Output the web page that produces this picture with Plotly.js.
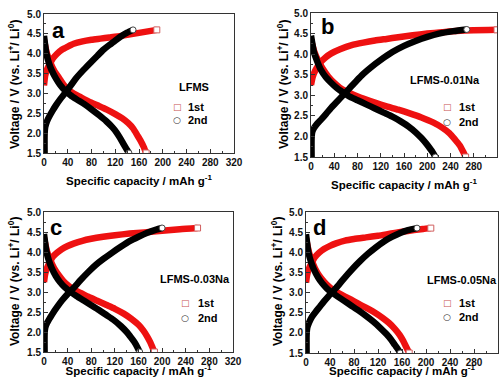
<!DOCTYPE html>
<html><head><meta charset="utf-8">
<script src="https://cdn.plot.ly/plotly-3.0.1.min.js"></script>
<style>body{margin:0;background:#fff}</style></head>
<body><div id="chart" style="width:502px;height:377px"></div>
<script>
// Panel a: LFMS
const a_ch1_x = [0, 2, 5, 10, 15, 22, 30, 40, 50, 65, 80, 95, 110, 130, 150, 170, 190];
const a_ch1_y = [3.2, 3.45, 3.6, 3.75, 3.88, 4.0, 4.1, 4.18, 4.25, 4.31, 4.35, 4.38, 4.41, 4.45, 4.5, 4.55, 4.6];
const a_dis1_x = [0, 5, 10, 18, 25, 33, 40, 50, 60, 75, 90, 105, 120, 132, 142, 150, 157, 163, 168, 172];
const a_dis1_y = [4.35, 4.0, 3.8, 3.55, 3.4, 3.22, 3.1, 3.0, 2.92, 2.8, 2.7, 2.6, 2.48, 2.37, 2.25, 2.12, 1.95, 1.8, 1.65, 1.5];
const a_ch2_x = [1, 1, 2, 5, 10, 15, 20, 28, 35, 45, 55, 67, 80, 90, 100, 110, 120, 130, 140, 150];
const a_ch2_y = [1.5, 1.95, 2.15, 2.3, 2.45, 2.58, 2.7, 2.87, 3.0, 3.2, 3.4, 3.6, 3.8, 3.95, 4.1, 4.22, 4.33, 4.44, 4.53, 4.6];
const a_dis2_x = [0, 4, 8, 13, 20, 27, 35, 45, 55, 68, 80, 93, 105, 115, 122, 128, 133, 138, 143];
const a_dis2_y = [4.45, 4.0, 3.78, 3.58, 3.38, 3.22, 3.08, 2.95, 2.85, 2.73, 2.6, 2.45, 2.3, 2.15, 2.02, 1.88, 1.75, 1.62, 1.5];

// Panel b: LFMS-0.01Na
const b_ch1_x = [0, 3, 8, 15, 25, 35, 50, 70, 90, 110, 130, 150, 175, 200, 225, 250, 280, 320];
const b_ch1_y = [3.25, 3.45, 3.62, 3.78, 3.92, 4.02, 4.12, 4.22, 4.28, 4.33, 4.37, 4.41, 4.46, 4.5, 4.53, 4.56, 4.58, 4.59];
const b_dis1_x = [0, 6, 12, 20, 30, 40, 50, 60, 75, 90, 110, 130, 150, 170, 190, 210, 225, 238, 248, 256, 262, 266];
const b_dis1_y = [4.35, 4.05, 3.85, 3.65, 3.45, 3.3, 3.18, 3.1, 3.0, 2.92, 2.82, 2.73, 2.65, 2.56, 2.46, 2.34, 2.22, 2.08, 1.92, 1.78, 1.62, 1.5];
const b_ch2_x = [1, 1, 2, 5, 10, 18, 26, 35, 45, 55, 65, 78, 90, 105, 120, 140, 160, 180, 200, 220, 245, 268];
const b_ch2_y = [1.5, 1.95, 2.1, 2.2, 2.3, 2.42, 2.55, 2.7, 2.85, 3.0, 3.15, 3.35, 3.52, 3.7, 3.86, 4.05, 4.2, 4.32, 4.42, 4.5, 4.56, 4.6];
const b_dis2_x = [0, 5, 10, 17, 25, 35, 45, 55, 65, 80, 95, 110, 125, 140, 155, 168, 180, 190, 198, 205, 210, 214];
const b_dis2_y = [4.45, 4.05, 3.85, 3.62, 3.45, 3.3, 3.17, 3.07, 2.98, 2.88, 2.78, 2.68, 2.58, 2.48, 2.36, 2.24, 2.1, 1.96, 1.83, 1.7, 1.6, 1.5];

// Panel c: LFMS-0.03Na
const c_ch1_x = [0, 2, 5, 10, 15, 22, 30, 40, 50, 65, 80, 100, 120, 145, 170, 200, 230, 260];
const c_ch1_y = [3.25, 3.45, 3.6, 3.75, 3.88, 3.98, 4.07, 4.15, 4.21, 4.28, 4.33, 4.38, 4.42, 4.46, 4.49, 4.53, 4.57, 4.6];
const c_dis1_x = [0, 5, 10, 17, 25, 33, 42, 52, 63, 75, 90, 105, 120, 135, 148, 160, 168, 175, 180, 184, 187];
const c_dis1_y = [4.35, 4.02, 3.82, 3.6, 3.42, 3.27, 3.15, 3.05, 2.97, 2.88, 2.78, 2.68, 2.58, 2.46, 2.33, 2.18, 2.04, 1.88, 1.74, 1.6, 1.5];
const c_ch2_x = [1, 1, 2, 5, 10, 15, 22, 30, 40, 50, 62, 75, 88, 100, 115, 130, 145, 160, 175, 190, 200];
const c_ch2_y = [1.5, 1.95, 2.1, 2.22, 2.35, 2.47, 2.62, 2.78, 2.95, 3.1, 3.3, 3.5, 3.68, 3.82, 3.98, 4.13, 4.27, 4.38, 4.48, 4.56, 4.6];
const c_dis2_x = [0, 4, 8, 13, 20, 27, 35, 45, 55, 68, 80, 93, 105, 118, 130, 140, 147, 153, 158, 162];
const c_dis2_y = [4.45, 4.02, 3.8, 3.6, 3.4, 3.25, 3.12, 3.0, 2.9, 2.78, 2.67, 2.55, 2.43, 2.3, 2.15, 2.0, 1.87, 1.75, 1.62, 1.5];

// Panel d: LFMS-0.05Na
const d_ch1_x = [0, 2, 5, 10, 15, 22, 30, 40, 50, 65, 80, 100, 120, 140, 160, 180, 195, 208];
const d_ch1_y = [3.25, 3.45, 3.6, 3.75, 3.88, 3.99, 4.08, 4.16, 4.22, 4.29, 4.33, 4.37, 4.41, 4.46, 4.51, 4.55, 4.58, 4.6];
const d_dis1_x = [0, 5, 10, 15, 22, 30, 38, 46, 55, 65, 78, 90, 103, 115, 127, 138, 148, 156, 162, 167, 172];
const d_dis1_y = [4.35, 4.0, 3.78, 3.6, 3.42, 3.27, 3.15, 3.06, 2.98, 2.9, 2.8, 2.7, 2.6, 2.5, 2.38, 2.25, 2.1, 1.95, 1.8, 1.65, 1.5];
const d_ch2_x = [1, 1, 2, 5, 10, 16, 23, 30, 38, 46, 55, 65, 77, 90, 103, 117, 130, 143, 157, 170, 185];
const d_ch2_y = [1.5, 1.95, 2.12, 2.25, 2.4, 2.52, 2.65, 2.78, 2.92, 3.05, 3.2, 3.38, 3.58, 3.78, 3.96, 4.13, 4.27, 4.38, 4.48, 4.55, 4.6];
const d_dis2_x = [0, 4, 8, 13, 20, 27, 35, 44, 53, 63, 75, 88, 100, 112, 124, 134, 142, 148, 153, 157];
const d_dis2_y = [4.45, 4.0, 3.78, 3.58, 3.38, 3.23, 3.1, 2.99, 2.9, 2.8, 2.68, 2.55, 2.42, 2.28, 2.12, 1.97, 1.83, 1.7, 1.6, 1.5];

const sampleNames = ['LFMS', 'LFMS-0.01Na', 'LFMS-0.03Na', 'LFMS-0.05Na'];
const panelLetters = ['a', 'b', 'c', 'd'];
const seriesNames = ['1st', '2nd'];
const seriesSymbols = ['\u25A1', '\u25CB'];
const xTicks = [0, 40, 80, 120, 160, 200, 240, 280, 320];
const yTicks = [1.5, 2.0, 2.5, 3.0, 3.5, 4.0, 4.5, 5.0];
const xTitle = 'Specific capacity / mAh g<sup>-1</sup>';
const yTitle = 'Voltage / V (vs. Li<sup>+</sup>/ Li<sup>0</sup>)';

const panels = [
  {ch1:[a_ch1_x,a_ch1_y], dis1:[a_dis1_x,a_dis1_y], ch2:[a_ch2_x,a_ch2_y], dis2:[a_dis2_x,a_dis2_y]},
  {ch1:[b_ch1_x,b_ch1_y], dis1:[b_dis1_x,b_dis1_y], ch2:[b_ch2_x,b_ch2_y], dis2:[b_dis2_x,b_dis2_y]},
  {ch1:[c_ch1_x,c_ch1_y], dis1:[c_dis1_x,c_dis1_y], ch2:[c_ch2_x,c_ch2_y], dis2:[c_dis2_x,c_dis2_y]},
  {ch1:[d_ch1_x,d_ch1_y], dis1:[d_dis1_x,d_dis1_y], ch2:[d_ch2_x,d_ch2_y], dis2:[d_dis2_x,d_dis2_y]}
];

const W = 502, H = 377;
// plot boxes in pixels [left, right, top, bottom]
const boxes = [[44, 234, 14, 153], [311, 497, 13, 157], [44, 233, 212, 352], [306, 498, 212, 353]];
const labelPos = [[194, 87], [445, 80], [195, 279], [462, 280]];
// legend: [marker x, text left x, first row y, second row y]
const legendPos = [[177, 186, 107, 120], [447, 457, 107, 122], [185, 196, 303, 318], [447, 457, 303, 317]];
const letterPos = [[58, 30], [327, 26], [56, 227], [319, 227]];
const yTitlePos = [[14, 85], [283, 85], [14, 282], [277, 282]];

const RED = '#ee1111', BLK = '#000000';
const FONT = 'Liberation Sans, Arial, sans-serif';
const traces = [];
const layout = {
  width: W, height: H, margin: {l:0, r:0, t:0, b:0},
  paper_bgcolor: '#fff', plot_bgcolor: '#fff', showlegend: false,
  font: {family: FONT, color: '#000', weight: 'bold'},
  annotations: []
};
const ann = (x, y, text, size, opts) => Object.assign({xref: 'paper', yref: 'paper', x: x / W, y: 1 - y / H,
  text: text, showarrow: false, font: {size: size, family: FONT, weight: 'bold', color: '#000'},
  xanchor: 'center', yanchor: 'middle'}, opts || {});

panels.forEach((p, i) => {
  const n = i + 1;
  const xa = n === 1 ? 'x' : 'x' + n, ya = n === 1 ? 'y' : 'y' + n;
  const [L, R, T, B] = boxes[i];
  const axCommon = {
    showgrid: false, zeroline: false, showline: true, linecolor: '#333', linewidth: 1,
    mirror: true, ticks: 'inside', ticklen: 4, tickcolor: '#333', tickwidth: 1,
    tickfont: {size: 10, family: FONT, weight: 'bold', color: '#111'}
  };
  layout['xaxis' + (n === 1 ? '' : n)] = Object.assign({}, axCommon, {
    domain: [L / W, R / W], anchor: ya, range: [0, 320], tickvals: xTicks, ticktext: xTicks.map(String),
    minor: {ticks: 'inside', ticklen: 2, dtick: 20, tick0: 0, tickcolor: '#333'},
    title: {text: xTitle, font: {size: 11.5, family: FONT, weight: 'bold'}, standoff: 9}
  });
  layout['yaxis' + (n === 1 ? '' : n)] = Object.assign({}, axCommon, {
    domain: [1 - B / H, 1 - T / H], anchor: xa, range: [1.5, 5.0], tickvals: yTicks, ticktext: yTicks.map(v => v.toFixed(1)),
    minor: {ticks: 'inside', ticklen: 2, dtick: 0.25, tick0: 1.5, tickcolor: '#333'}
  });
  const lines = [['ch1', RED], ['dis1', RED], ['ch2', BLK], ['dis2', BLK]];
  lines.forEach(([k, c]) => {
    traces.push({x: p[k][0], y: p[k][1], xaxis: xa, yaxis: ya, mode: 'lines', showlegend: false,
      line: {color: c, width: 6.5, shape: 'spline', smoothing: 0.6}, hoverinfo: 'skip'});
  });
  const endOf = arr => arr[arr.length - 1];
  traces.push({x: [endOf(p.ch1[0]), endOf(p.dis1[0])], y: [endOf(p.ch1[1]), endOf(p.dis1[1])],
    xaxis: xa, yaxis: ya, mode: 'markers', name: seriesNames[0], showlegend: false,
    marker: {symbol: 'square', size: 6, color: '#fff', line: {width: 1, color: '#d06060'}}});
  traces.push({x: [endOf(p.ch2[0]), endOf(p.dis2[0])], y: [endOf(p.ch2[1]), endOf(p.dis2[1])],
    xaxis: xa, yaxis: ya, mode: 'markers', name: seriesNames[1], showlegend: false,
    marker: {symbol: 'circle', size: 6, color: '#fff', line: {width: 1, color: '#444'}}});
  const [mx, tx, y1, y2] = legendPos[i];
  layout.annotations.push(ann(mx, y1, seriesSymbols[0], 9, {font: {size: 9, family: 'DejaVu Sans', color: '#c85050'}}));
  layout.annotations.push(ann(mx, y2, seriesSymbols[1], 9, {font: {size: 9, family: 'DejaVu Sans', color: '#333'}}));
  layout.annotations.push(ann(tx, y1, seriesNames[0], 11, {xanchor: 'left'}));
  layout.annotations.push(ann(tx, y2, seriesNames[1], 11, {xanchor: 'left'}));
  layout.annotations.push(ann(labelPos[i][0], labelPos[i][1], sampleNames[i], 11));
  layout.annotations.push(ann(letterPos[i][0], letterPos[i][1], panelLetters[i], 22));
  layout.annotations.push(ann(yTitlePos[i][0], yTitlePos[i][1], yTitle, 12, {textangle: -90}));
});

Plotly.newPlot('chart', traces, layout, {staticPlot: true, displayModeBar: false});
</script></body></html>
